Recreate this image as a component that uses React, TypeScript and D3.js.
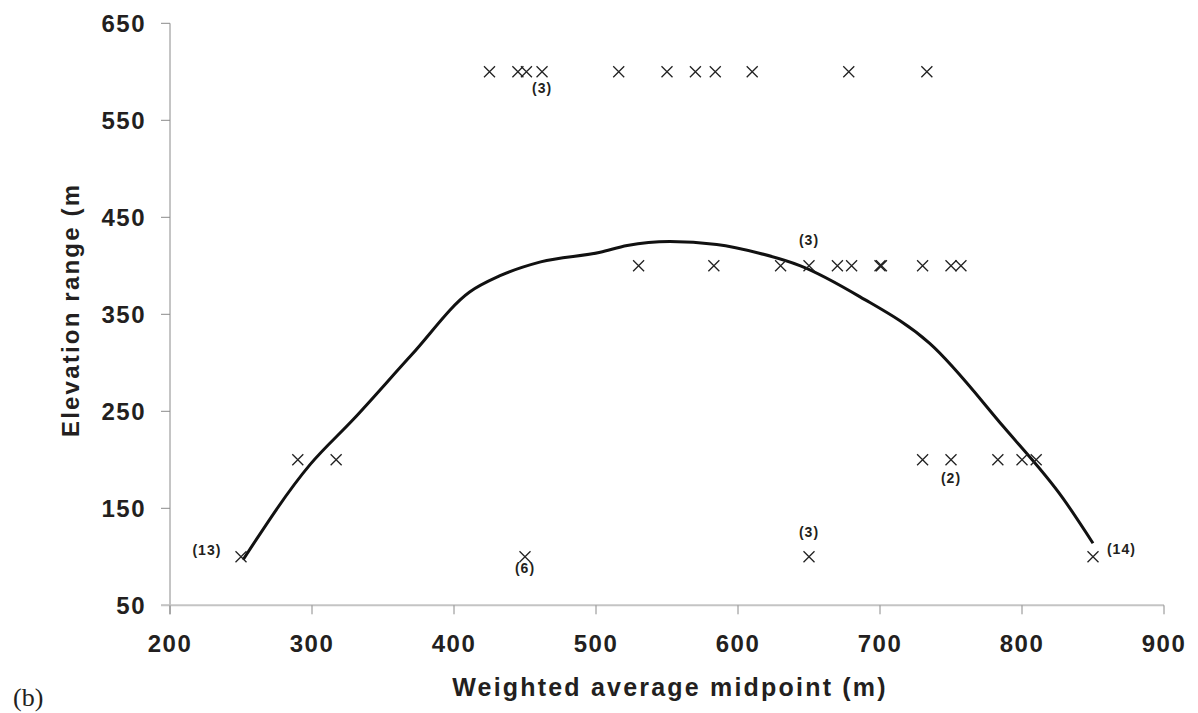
import React from "react";
import * as d3 from "d3";

const xTicks = [200, 300, 400, 500, 600, 700, 800, 900];
const yTicks = [50, 150, 250, 350, 450, 550, 650];

// observed points (x = weighted average midpoint, y = elevation range)
const ptX = [
  425, 445, 451, 462, 516, 550, 570, 584, 610, 678, 733,
  530, 583, 630, 650, 670, 680, 700, 701, 730, 750, 757,
  290, 317, 730, 750, 783, 800, 810,
  250, 450, 650, 850,
];
const ptY = [
  600, 600, 600, 600, 600, 600, 600, 600, 600, 600, 600,
  400, 400, 400, 400, 400, 400, 400, 400, 400, 400, 400,
  200, 200, 200, 200, 200, 200, 200,
  100, 100, 100, 100,
];

// fitted curve
const fitX = [251.5, 298.6, 329, 370, 411, 432, 461, 503, 522, 552, 585, 615, 644, 686, 735, 787, 829, 850];
const fitY = [97, 195, 241.5, 308, 373, 389.5, 404, 414, 421, 425, 422, 413, 400, 368, 320, 234, 160, 114];

// count annotations
const noteText = ["(3)", "(3)", "(2)", "(13)", "(6)", "(3)", "(14)"];
const noteX = [462, 650, 750, 226, 450, 650, 870];
const noteY = [583, 426, 181, 107, 88, 125, 108];

export default function App() {
  const W = 1198, H = 713;
  const x = d3.scaleLinear().domain([200, 900]).range([170, 1164]);
  const y = d3.scaleLinear().domain([50, 650]).range([605.3, 23.3]);
  const line = d3
    .line<number>()
    .x((_, i) => x(fitX[i]))
    .y((_, i) => y(fitY[i]))
    .curve(d3.curveMonotoneX);
  const s = 5.5;
  return (
    <svg width={W} height={H} style={{ position: "absolute", left: 0, top: 0, background: "#fff" }}>
      <rect width={W} height={H} fill="#fff" />
      {/* y axis */}
      <line x1={170} x2={170} y1={y(650)} y2={y(50) + 9} stroke="#8a8a8a" strokeWidth={1} />
      {yTicks.map((t) => (
        <g key={"y" + t}>
          <line x1={161} x2={170} y1={y(t)} y2={y(t)} stroke="#8a8a8a" strokeWidth={1} />
          <text
            x={146}
            y={y(t)}
            dy="0.36em"
            textAnchor="end"
            fontFamily="Liberation Sans, Arial, sans-serif"
            fontWeight="bold"
            fontSize={24}
            letterSpacing={1.5}
            fill="#231f20"
          >
            {t}
          </text>
        </g>
      ))}
      {/* x axis */}
      <line x1={161} x2={1164} y1={y(50)} y2={y(50)} stroke="#c4c4c4" strokeWidth={2} />
      {xTicks.map((t) => (
        <g key={"x" + t}>
          <line x1={x(t)} x2={x(t)} y1={y(50)} y2={y(50) + 9} stroke="#8a8a8a" strokeWidth={1} />
          <text
            x={x(t)}
            y={652}
            textAnchor="middle"
            fontFamily="Liberation Sans, Arial, sans-serif"
            fontWeight="bold"
            fontSize={24}
            letterSpacing={1.5}
            fill="#231f20"
          >
            {t}
          </text>
        </g>
      ))}
      <text
        x={670}
        y={696}
        textAnchor="middle"
        fontFamily="Liberation Sans, Arial, sans-serif"
        fontWeight="bold"
        fontSize={25}
        letterSpacing={2.2}
        fill="#231f20"
      >
        Weighted average midpoint (m)
      </text>
      <text
        transform="translate(79,437) rotate(-90)"
        textAnchor="start"
        fontFamily="Liberation Sans, Arial, sans-serif"
        fontWeight="bold"
        fontSize={24}
        letterSpacing={2.2}
        fill="#231f20"
      >
        Elevation range (m
      </text>
      <text x={13} y={706} fontFamily="Liberation Serif, Times New Roman, serif" fontSize={26} fill="#231f20">
        (b)
      </text>
      {/* fitted curve */}
      <path d={line(fitX) || ""} fill="none" stroke="#111" strokeWidth={3} strokeLinejoin="round" />
      {/* markers */}
      {ptX.map((v, i) => {
        const cx = x(v), cy = y(ptY[i]);
        return (
          <path
            key={"p" + i}
            d={`M${cx - s},${cy - s}L${cx + s},${cy + s}M${cx - s},${cy + s}L${cx + s},${cy - s}`}
            stroke="#222"
            strokeWidth={1.3}
            fill="none"
          />
        );
      })}
      {noteText.map((t, i) => (
        <text
          key={"n" + i}
          x={x(noteX[i])}
          y={y(noteY[i])}
          dy="0.35em"
          textAnchor="middle"
          fontFamily="Liberation Sans, Arial, sans-serif"
          fontWeight="bold"
          fontSize={14}
          letterSpacing={1}
          fill="#231f20"
        >
          {t}
        </text>
      ))}
    </svg>
  );
}
